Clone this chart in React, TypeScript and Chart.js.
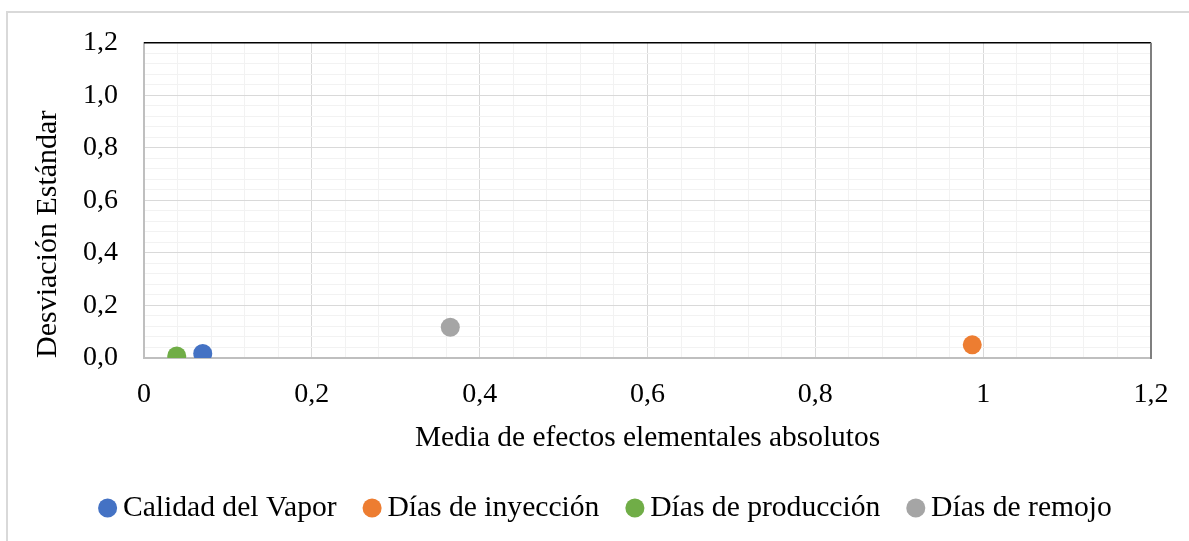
import React, { useEffect, useRef } from "react";
import { Chart, registerables } from "chart.js";

Chart.register(...registerables);

const seriesNames = ["Calidad del Vapor", "Días de inyección", "Días de producción", "Días de remojo"];
const meanValues = [0.07, 0.987, 0.039, 0.365];
const stdValues = [0.017, 0.05, 0.008, 0.117];
const seriesColors = ["#4472C4", "#ED7D31", "#70AD47", "#A5A5A5"];
const xTickLabels = ["0", "0,2", "0,4", "0,6", "0,8", "1", "1,2"];
const yTickLabels = ["0,0", "0,2", "0,4", "0,6", "0,8", "1,0", "1,2"];
const xTitle = "Media de efectos elementales absolutos";
const yTitle = "Desviación Estándar";
const axisMin = 0;
const axisMax = 1.2;
const minorStep = 0.04;
const minorPerMajor = 5;

const FONT = "'Liberation Serif', 'Times New Roman', serif";

const majorIndex = (v: number) => Math.round(v / minorStep);

const frameLines = {
  id: "frameLines",
  beforeDatasetsDraw(chart: any) {
    const { ctx, chartArea } = chart;
    ctx.save();
    ctx.strokeStyle = "#000000";
    ctx.lineWidth = 1.5;
    ctx.beginPath();
    ctx.moveTo(chartArea.left, chartArea.top);
    ctx.lineTo(chartArea.right, chartArea.top);
    ctx.stroke();
    ctx.strokeStyle = "#7f7f7f";
    ctx.lineWidth = 2;
    ctx.beginPath();
    ctx.moveTo(chartArea.right, chartArea.top);
    ctx.lineTo(chartArea.right, chartArea.bottom + 1);
    ctx.stroke();
    ctx.restore();
  },
};

export default function App() {
  const canvasRef = useRef<HTMLCanvasElement | null>(null);

  useEffect(() => {
    if (!canvasRef.current) return;
    const datasets = seriesNames.map((name, i) => ({
      label: name,
      data: [{ x: meanValues[i], y: stdValues[i] }],
      backgroundColor: seriesColors[i],
      borderColor: seriesColors[i],
      borderWidth: 0,
      pointRadius: 9.5,
      pointHoverRadius: 9.5,
      pointStyle: "circle" as const,
    }));

    const gridColor = (ctx: any) =>
      majorIndex(ctx.tick ? ctx.tick.value : 0) % minorPerMajor === 0 ? "#d9d9d9" : "#f2f2f2";

    const chart = new Chart(canvasRef.current, {
      type: "scatter",
      data: { datasets },
      plugins: [frameLines],
      options: {
        animation: false,
        responsive: false,
        devicePixelRatio: 1,
        layout: { padding: { left: 68, right: 38, top: 41, bottom: 8.2 } },
        plugins: {
          tooltip: { enabled: false },
          legend: {
            position: "bottom",
            labels: {
              usePointStyle: true,
              boxWidth: 1,
              boxHeight: 13.5,
              padding: 35,
              color: "#000000",
              font: { family: FONT, size: 29.6 },
            },
          },
        },
        scales: {
          x: {
            type: "linear",
            min: axisMin,
            max: axisMax,
            afterFit(scale: any) {
              scale.height = 100.2;
            },
            border: { display: true, color: "#bfbfbf", width: 2 },
            grid: { color: gridColor, lineWidth: 1, drawTicks: false },
            ticks: {
              stepSize: minorStep,
              autoSkip: false,
              maxRotation: 0,
              padding: 19.5,
              color: "#000000",
              font: { family: FONT, size: 28 },
              callback: (v: any) => {
                const k = majorIndex(Number(v));
                return k % minorPerMajor === 0 ? xTickLabels[k / minorPerMajor] : "";
              },
            },
            title: {
              display: true,
              text: xTitle,
              color: "#000000",
              font: { family: FONT, size: 29.4 },
              padding: { top: 0, bottom: 2.6 },
            },
          },
          y: {
            type: "linear",
            min: axisMin,
            max: axisMax,
            afterFit(scale: any) {
              scale.width = 76;
            },
            border: { display: true, color: "#bfbfbf", width: 2 },
            grid: { color: gridColor, lineWidth: 1, drawTicks: false },
            ticks: {
              stepSize: minorStep,
              autoSkip: false,
              padding: 26,
              color: "#000000",
              font: { family: FONT, size: 28 },
              callback: (v: any) => {
                const k = majorIndex(Number(v));
                return k % minorPerMajor === 0 ? yTickLabels[k / minorPerMajor] : "";
              },
            },
            title: {
              display: true,
              text: yTitle,
              align: "start",
              color: "#000000",
              font: { family: FONT, size: 30 },
              padding: { top: -38, bottom: 0 },
            },
          },
        },
      },
    } as any);
    return () => chart.destroy();
  }, []);

  return (
    <div
      style={{
        position: "fixed",
        left: 0,
        top: 0,
        width: 1189,
        height: 541,
        overflow: "hidden",
        background: "#ffffff",
      }}
    >
      <div
        style={{
          position: "absolute",
          left: 6,
          top: 11,
          width: 1400,
          height: 800,
          border: "2px solid #d9d9d9",
        }}
      />
      <canvas
        ref={canvasRef}
        width={1189}
        height={541}
        style={{ position: "absolute", left: 0, top: 0, width: 1189, height: 541 }}
      />
    </div>
  );
}
